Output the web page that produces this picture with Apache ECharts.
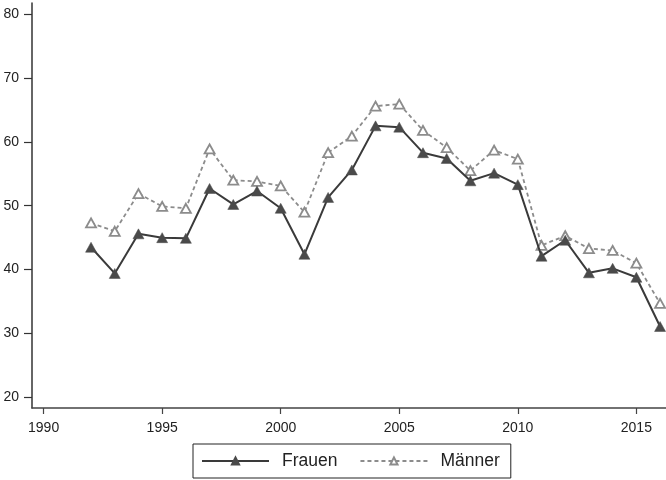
<!DOCTYPE html>
<html>
<head>
<meta charset="utf-8">
<script src="https://cdn.jsdelivr.net/npm/echarts@6/dist/echarts.min.js"></script>
<style>html,body{margin:0;padding:0;background:#fff}#c{width:666px;height:480px}</style>
</head>
<body>
<div id="c"></div>
<script>
const years = [1992,1993,1994,1995,1996,1997,1998,1999,2000,2001,2002,2003,2004,2005,2006,2007,2008,2009,2010,2011,2012,2013,2014,2015,2016];
const frauen = [43.5,39.4,45.6,45.0,44.9,52.7,50.2,52.3,49.6,42.4,51.3,55.6,62.5,62.3,58.3,57.4,53.9,55.1,53.3,42.1,44.6,39.5,40.2,38.8,31.1];
const maenner = [47.3,46.0,51.9,49.9,49.6,58.9,54.0,53.8,53.1,49.0,58.3,60.9,65.6,65.9,61.8,59.1,55.5,58.7,57.3,43.8,45.3,43.3,43.0,41.0,34.7];
const xTicks = [1990,1995,2000,2005,2010,2015];
const yTicks = [20,30,40,50,60,70,80];

const pair = (a) => years.map((y, i) => [y, a[i]]);
const font = 'Liberation Sans, Arial, sans-serif';
const chart = echarts.init(document.getElementById('c'), null, {renderer: 'canvas'});
chart.setOption({
  animation: false,
  backgroundColor: '#fff',
  grid: {left: 32, right: 0, top: 3, bottom: 72},
  xAxis: {
    type: 'value', min: 1989.51, max: 2016.25,
    axisLine: {show: true, onZero: false, lineStyle: {color: '#444', width: 1.5}},
    axisTick: {show: true, length: 6, customValues: xTicks, lineStyle: {color: '#444', width: 1.2}},
    axisLabel: {customValues: xTicks, margin: 13, color: '#222', fontSize: 14, fontFamily: font, formatter: (v) => String(v)},
    splitLine: {show: false}
  },
  yAxis: {
    type: 'value', min: 18.34, max: 81.73,
    axisLine: {show: true, onZero: false, lineStyle: {color: '#333', width: 1.5}},
    axisTick: {show: true, length: 8, customValues: yTicks, lineStyle: {color: '#333', width: 1.2}},
    axisLabel: {customValues: yTicks, margin: 13, color: '#222', fontSize: 14, fontFamily: font, formatter: (v) => String(v)},
    splitLine: {show: false}
  },
  legend: {
    left: 193, top: 444,
    padding: [8, 11, 8, 8],
    itemWidth: 67, itemHeight: 9, itemGap: 22,
    borderColor: '#222', borderWidth: 1,
    textStyle: {fontSize: 17.5, fontFamily: font, color: '#222', lineHeight: 18, padding: [0, 0, 0, 8]},
    data: ['Frauen', 'Männer']
  },
  series: [
    {
      name: 'Frauen', type: 'line', data: pair(frauen),
      symbol: 'triangle', symbolSize: [11, 10],
      lineStyle: {color: '#3a3a3a', width: 2},
      itemStyle: {color: '#4a4a4a', borderColor: '#4a4a4a', borderWidth: 0.5},
      z: 3
    },
    {
      name: 'Männer', type: 'line', data: pair(maenner),
      symbol: 'triangle', symbolSize: [10, 9],
      lineStyle: {color: '#8c8c8c', width: 1.8, type: [4, 3]},
      itemStyle: {color: '#fff', borderColor: '#8c8c8c', borderWidth: 1.8},
      z: 2
    }
  ]
});
</script>
</body>
</html>
